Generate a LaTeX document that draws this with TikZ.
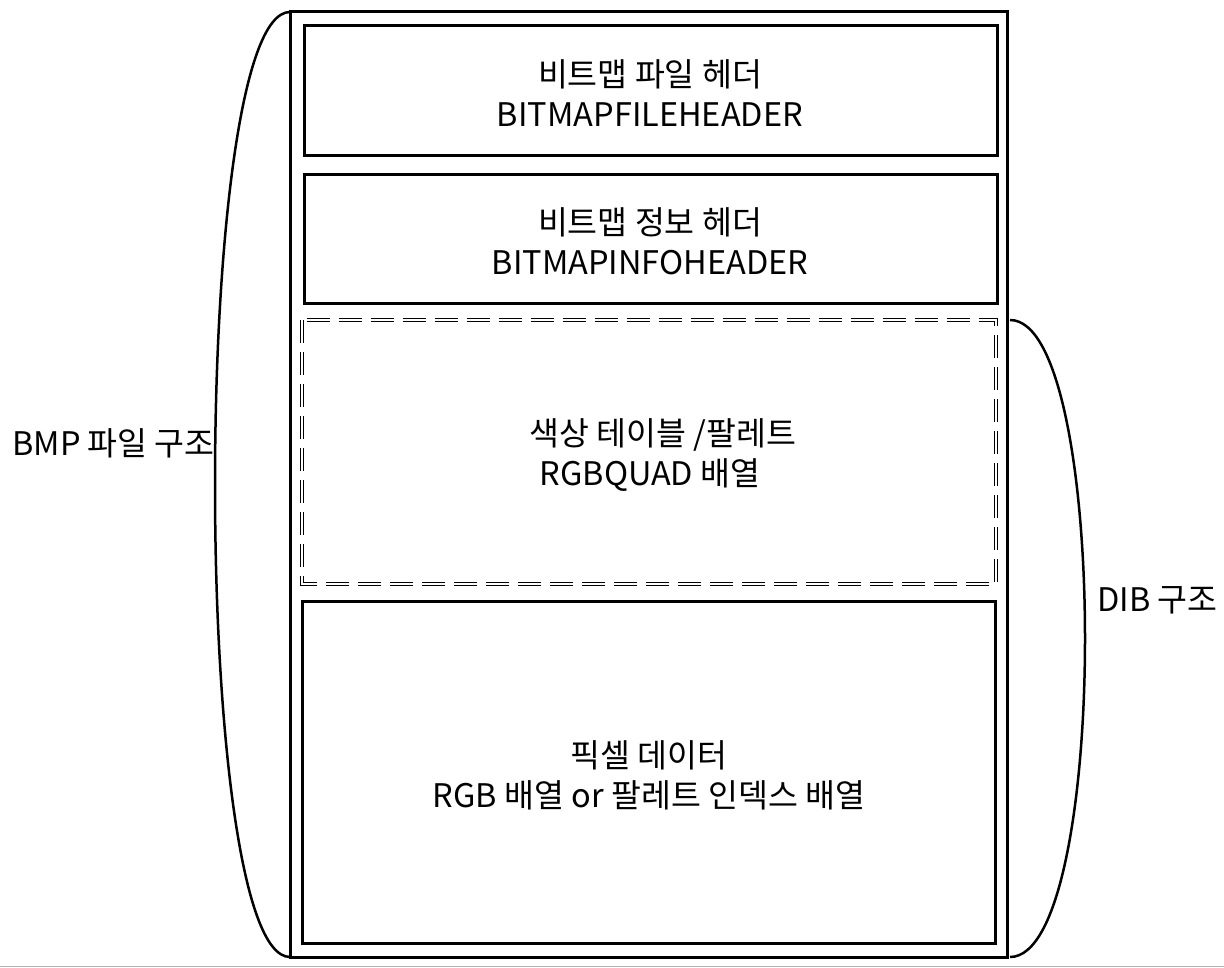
\documentclass[tikz,border=0pt]{standalone}
\usepackage{fontspec}
\setmainfont{Noto Sans CJK KR}
\begin{document}
\begin{tikzpicture}[x=1pt,y=-1pt,
  box/.style={draw,line width=3pt},
  dbox/.style={draw,line width=1pt,double,double distance=1.8pt,dash pattern=on 23pt off 9pt},
  brace/.style={draw,line width=2.5pt},
  txt/.style={align=center,font=\fontsize{32.5}{40}\selectfont,inner sep=0pt},
  lbl/.style={font=\fontsize{32.5}{40}\selectfont,inner sep=0pt}]
\useasboundingbox (0,0) rectangle (1224,968);
\draw[gray!60,line width=1.5pt] (0,966.5) -- (1224,966.5);
\draw[box] (290,12) rectangle (1007,957);
\draw[box] (304,26) rectangle (997,156);
\draw[box] (304,175) rectangle (997,304);
\draw[dbox] (302,320) rectangle (996,584);
\draw[box] (302,601) rectangle (995,943);
\node[txt] (t1) at (650,93) {비트맵 파일 헤더\\BITMAPFILEHEADER};
\node[txt] (t2) at (650,241) {비트맵 정보 헤더\\BITMAPINFOHEADER};
\node[txt] (t3) at (650,455) {\hspace*{26pt}색상 테이블 /팔레트\\RGBQUAD 배열};
\node[txt] (t4) at (649,775) {픽셀 데이터\\RGB 배열 or 팔레트 인덱스 배열};
\coordinate (lt) at (290,12);
\coordinate (lb) at (290,957);
\coordinate (rt) at (1010,320);
\coordinate (rb) at (1010,957);
\draw[brace] (lt) .. controls (190,12) and (190,957) .. (lb);
\draw[brace] (rt) .. controls (1110,320) and (1110,957) .. (rb);
\node[lbl,anchor=east] (bmp) at (215,443) {BMP 파일 구조};
\node[lbl,anchor=west] (dib) at (1097,600) {DIB 구조};
\end{tikzpicture}
\end{document}
